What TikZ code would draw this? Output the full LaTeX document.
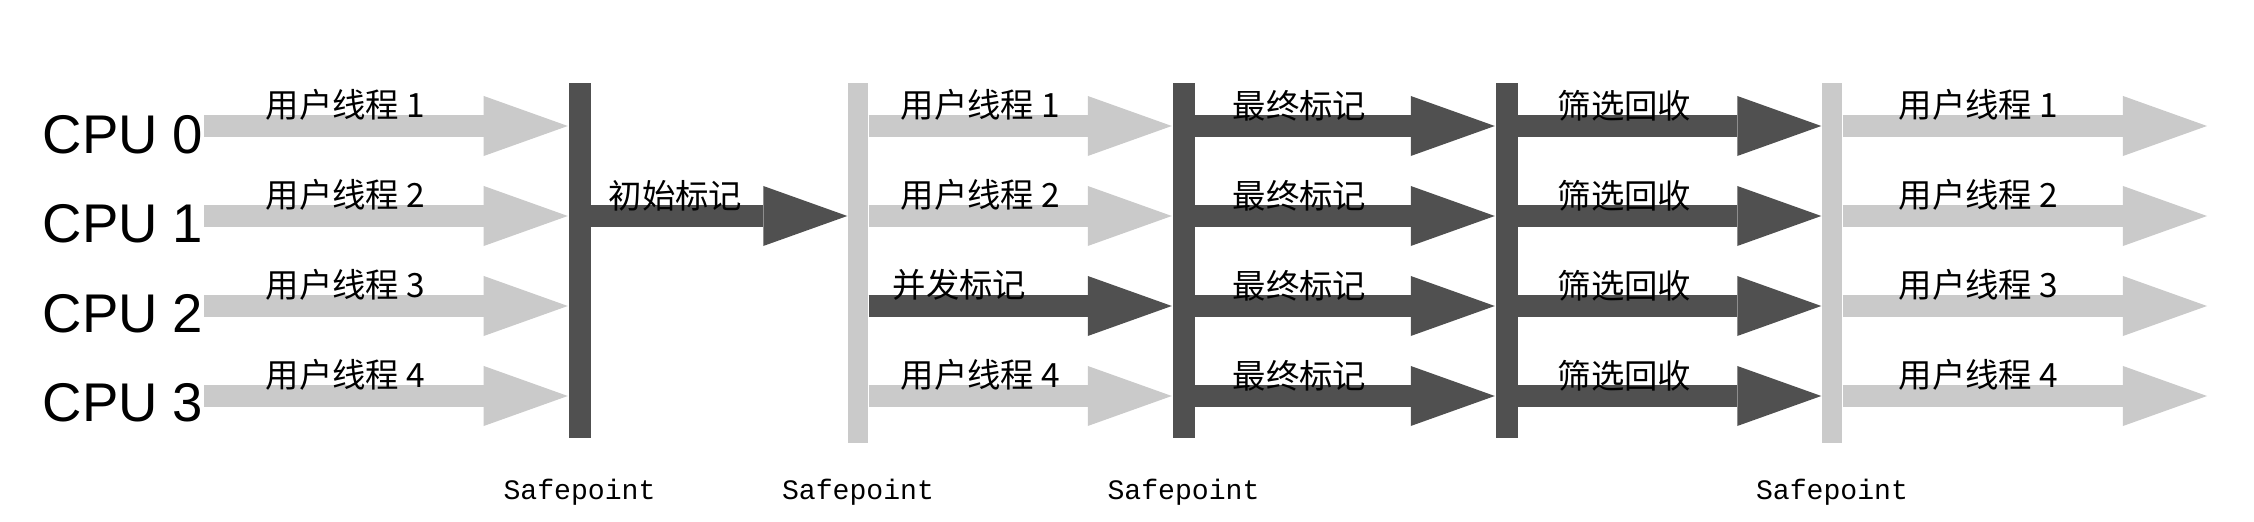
\documentclass[tikz,border=0pt]{standalone}
\usepackage{fontspec}
\setmainfont{Liberation Sans}
\setmonofont{Liberation Mono}
\newfontfamily\cjk{Noto Sans CJK SC}
\usepackage{xcolor}
\usetikzlibrary{arrows.meta,positioning,calc}
\definecolor{bardark}{RGB}{80,80,80}
\definecolor{barlite}{RGB}{202,202,202}

\begin{document}
\begin{tikzpicture}[x=0.01cm, y=-0.01cm,
    darkbar/.style={fill=bardark, inner sep=0pt, minimum width=0.22cm, minimum height=3.55cm},
    litebar/.style={fill=barlite, inner sep=0pt, minimum width=0.2cm, minimum height=3.6cm},
    flow/.style={line width=0.22cm, -{Triangle[length=0.84cm, width=0.6cm, line width=0pt]}},
    darkflow/.style={flow, draw=bardark},
    liteflow/.style={flow, draw=barlite},
    lab/.style={anchor=west, inner sep=0pt, font=\cjk\fontsize{9.5}{11}\selectfont},
    cpu/.style={anchor=base east, inner sep=0pt, font=\fontsize{15.5}{18}\selectfont},
    sptext/.style={anchor=base, inner sep=0pt, font=\ttfamily\fontsize{8}{9}\selectfont}]
    \useasboundingbox (0,0) rectangle (2254,522);

    % rows and free ends
    \coordinate (r0) at (0,126);
    \coordinate (r1) at (0,216);
    \coordinate (r2) at (0,306);
    \coordinate (r3) at (0,396);
    \coordinate (sb) at (0,500);
    \coordinate (e0) at (2207,126);
    \coordinate (e1) at (2207,216);
    \coordinate (e2) at (2207,306);
    \coordinate (e3) at (2207,396);

    % Safepoint bars
    \node[darkbar] (sp1) at (579.5,260.5) {};
    \node[litebar] (sp2) at (858,263) {};
    \node[darkbar] (sp3) at (1183.5,260.5) {};
    \node[darkbar] (sp4) at (1506.5,260.5) {};
    \node[litebar] (sp5) at (1832,263) {};

    \node[sptext] (t1) at (sp1 |- sb) {Safepoint};
    \node[sptext] (t2) at (sp2 |- sb) {Safepoint};
    \node[sptext] (t3) at (sp3 |- sb) {Safepoint};
    \node[sptext] (t5) at (sp5 |- sb) {Safepoint};

    % CPUs
    \node[cpu] (cpu0) at (204,154) {CPU 0};
    \node[cpu] (cpu1) at (204,243) {CPU 1};
    \node[cpu] (cpu2) at (204,333) {CPU 2};
    \node[cpu] (cpu3) at (204,422) {CPU 3};

    % user threads before the first pause
    \draw[liteflow] (cpu0.east |- r0) -- (sp1.west |- r0);
    \draw[liteflow] (cpu1.east |- r1) -- (sp1.west |- r1);
    \draw[liteflow] (cpu2.east |- r2) -- (sp1.west |- r2);
    \draw[liteflow] (cpu3.east |- r3) -- (sp1.west |- r3);
    \node[lab] (ua0) at (265,105) {用户线程 1};
    \node[lab] (ua1) at (265,195) {用户线程 2};
    \node[lab] (ua2) at (265,285) {用户线程 3};
    \node[lab] (ua3) at (265,375) {用户线程 4};

    % initial mark
    \draw[darkflow] (sp1.east |- r1) -- (sp2.west |- r1);
    \node[lab] (init) at (608,196) {初始标记};

    % concurrent mark
    \draw[liteflow] (sp2.east |- r0) -- (sp3.west |- r0);
    \draw[liteflow] (sp2.east |- r1) -- (sp3.west |- r1);
    \draw[darkflow] (sp2.east |- r2) -- (sp3.west |- r2);
    \draw[liteflow] (sp2.east |- r3) -- (sp3.west |- r3);
    \node[lab] (ub0) at (900,105) {用户线程 1};
    \node[lab] (ub1) at (900,195) {用户线程 2};
    \node[lab] (conc) at (892,285) {并发标记};
    \node[lab] (ub3) at (900,375) {用户线程 4};

    % final mark
    \draw[darkflow] (sp3.east |- r0) -- (sp4.west |- r0);
    \draw[darkflow] (sp3.east |- r1) -- (sp4.west |- r1);
    \draw[darkflow] (sp3.east |- r2) -- (sp4.west |- r2);
    \draw[darkflow] (sp3.east |- r3) -- (sp4.west |- r3);
    \node[lab] (fm0) at (1232,106) {最终标记};
    \node[lab] (fm1) at (1232,196) {最终标记};
    \node[lab] (fm2) at (1232,286) {最终标记};
    \node[lab] (fm3) at (1232,376) {最终标记};

    % live data counting and evacuation
    \draw[darkflow] (sp4.east |- r0) -- (sp5.west |- r0);
    \draw[darkflow] (sp4.east |- r1) -- (sp5.west |- r1);
    \draw[darkflow] (sp4.east |- r2) -- (sp5.west |- r2);
    \draw[darkflow] (sp4.east |- r3) -- (sp5.west |- r3);
    \node[lab] (ev0) at (1557,106) {筛选回收};
    \node[lab] (ev1) at (1557,196) {筛选回收};
    \node[lab] (ev2) at (1557,286) {筛选回收};
    \node[lab] (ev3) at (1557,376) {筛选回收};

    % user threads again
    \draw[liteflow] (sp5.east |- r0) -- (e0);
    \draw[liteflow] (sp5.east |- r1) -- (e1);
    \draw[liteflow] (sp5.east |- r2) -- (e2);
    \draw[liteflow] (sp5.east |- r3) -- (e3);
    \node[lab] (uc0) at (1898,105) {用户线程 1};
    \node[lab] (uc1) at (1898,195) {用户线程 2};
    \node[lab] (uc2) at (1898,285) {用户线程 3};
    \node[lab] (uc3) at (1898,375) {用户线程 4};
\end{tikzpicture}
\end{document}
